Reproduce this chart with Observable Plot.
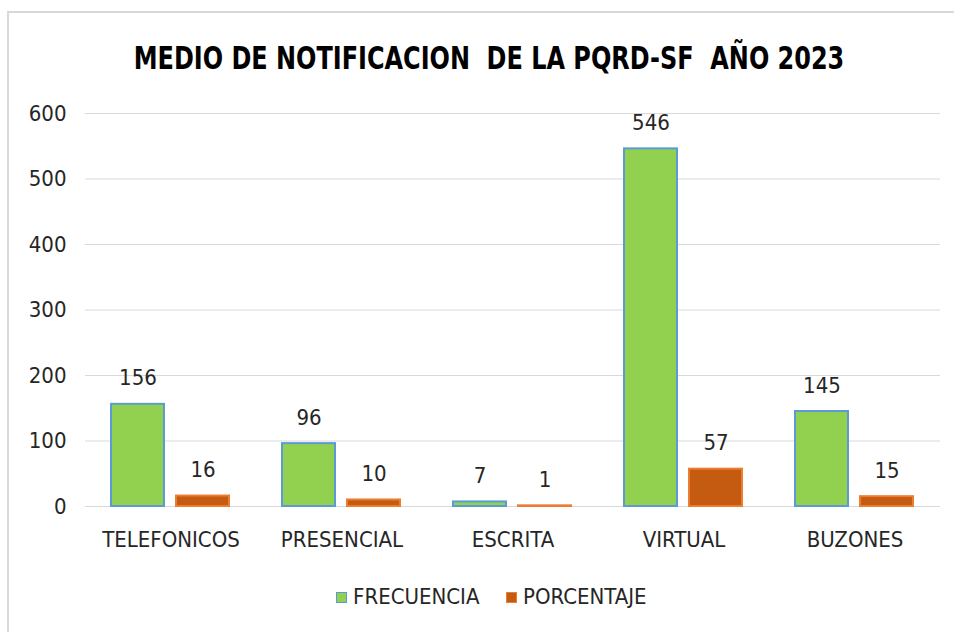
<!DOCTYPE html>
<html><head><meta charset="utf-8">
<script src="https://cdn.jsdelivr.net/npm/d3@7"></script>
<script src="https://cdn.jsdelivr.net/npm/@observablehq/plot@0.6"></script>
<style>
body{margin:0;background:#fff;font-family:"Liberation Sans Narrow","DejaVu Sans Condensed",sans-serif;}
#wrap{position:relative;width:954px;height:632px;overflow:hidden;background:#fff;}
#frame{position:absolute;left:7px;top:11px;width:1000px;height:700px;border-left:2px solid #d9d9d9;border-top:2px solid #d9d9d9;}
#title{position:absolute;left:0;width:978px;top:38px;text-align:center;font-weight:bold;font-size:32px;line-height:40px;color:#000;white-space:pre;transform:scaleX(0.832);transform-origin:489px 50%;}
#chart{position:absolute;left:0;top:90px;}
.leg{position:absolute;top:584px;font-size:22px;line-height:26px;color:#262626;display:flex;align-items:center;}
.sw{width:9px;height:9px;margin-right:6px;border:1px solid;}
</style></head>
<body>
<div id="wrap">
<div id="frame"></div>
<div id="title">MEDIO DE NOTIFICACION  DE LA PQRD-SF  AÑO 2023</div>
<div id="chart"></div>
<div class="leg" style="left:336px"><span class="sw" style="background:#92D050;border-color:#5B9BD5"></span>FRECUENCIA</div>
<div class="leg" style="left:506px"><span class="sw" style="background:#C55A11;border-color:#ED7D31"></span>PORCENTAJE</div>
</div>
<script>
const categories = ["TELEFONICOS","PRESENCIAL","ESCRITA","VIRTUAL","BUZONES"];
const series = ["FRECUENCIA","PORCENTAJE"];
const frecuencia = [156,96,7,546,145];
const porcentaje = [16,10,1,57,15];
const yTicks = [0,100,200,300,400,500,600];

const frecData = categories.map((c,i)=>({cat:c, serie:series[0], value:frecuencia[i]}));
const porcData = categories.map((c,i)=>({cat:c, serie:series[1], value:porcentaje[i]}));
const all = frecData.concat(porcData);

const chart = Plot.plot({
  width:954, height:490,
  marginLeft:84, marginRight:14, marginTop:23, marginBottom:74,
  style:{fontFamily:'"Liberation Sans Narrow","DejaVu Sans Condensed",sans-serif', fontSize:"22px", color:"#262626", background:"transparent", overflow:"visible"},
  fx:{domain:categories, padding:0, label:null, axis:"bottom", tickSize:0, tickPadding:25},
  x:{domain:series, paddingInner:0.182, paddingOuter:0.394, axis:null},
  y:{domain:[0,600], ticks:yTicks, label:null, tickSize:0, tickPadding:19},
  marks:[
    Plot.gridY(yTicks, {stroke:"#d9d9d9", strokeOpacity:1, strokeWidth:1}),
    Plot.barY(frecData, {fx:"cat", x:"serie", y:"value", fill:"#92D050", stroke:"#5B9BD5", strokeWidth:2}),
    Plot.barY(porcData, {fx:"cat", x:"serie", y:"value", fill:"#C55A11", stroke:"#ED7D31", strokeWidth:2}),
    Plot.text(all, {fx:"cat", x:"serie", y:"value", text:"value", dy:-26, fill:"#262626", fontSize:22})
  ]
});
document.getElementById("chart").appendChild(chart);
</script>
</body></html>
